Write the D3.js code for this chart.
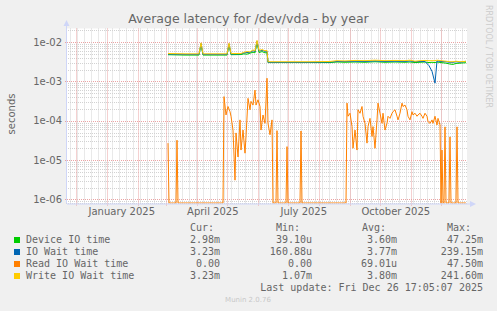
<!DOCTYPE html>
<html>
<head>
<meta charset="utf-8">
<script src="https://cdn.jsdelivr.net/npm/d3@7"></script>
<style>
body { margin: 0; background: #f0f0f0; }
svg { display: block; }
</style>
</head>
<body>
<svg width="497" height="311"></svg>
<script>
// time window: munin "year" graph = last 400 days
var endTime = Date.UTC(2025, 11, 26, 17, 5, 7);
var windowDays = 400;

// days into the window for the three upper series
var ioDays = [101, 118, 132, 134, 136, 160, 162, 164, 174, 177, 180, 183, 186, 188, 190, 192, 195, 198, 200,
    201, 223, 243, 263, 270, 278, 288, 298, 308, 318, 328, 338, 343, 348, 353, 358, 362, 365, 368, 370,
    374, 379, 383, 386, 389, 393, 399];
var deviceVals = [4.75e-3, 4.65e-3, 4.65e-3, 8.6e-3, 4.65e-3, 4.65e-3, 8.4e-3, 4.75e-3, 4.8e-3, 5.0e-3, 4.9e-3, 5.2e-3,
    5.5e-3, 5.3e-3, 9.8e-3, 5.4e-3, 5.7e-3, 5.3e-3, 5.4e-3,
    3.0e-3, 3.0e-3, 3.0e-3, 3.0e-3, 3.1e-3, 3.05e-3, 3.1e-3, 3.05e-3, 3.15e-3, 3.05e-3, 3.1e-3, 3.05e-3, 3.1e-3,
    3.0e-3, 3.05e-3, 3.1e-3, 3.0e-3, 3.05e-3, 3.0e-3, 3.1e-3, 3.0e-3, 2.9e-3, 2.75e-3, 2.7e-3, 2.85e-3, 2.9e-3, 2.98e-3];
var ioWaitVals = [4.95e-3, 4.85e-3, 4.85e-3, 9.2e-3, 4.85e-3, 4.85e-3, 9.0e-3, 4.95e-3, 5.0e-3, 5.3e-3, 5.4e-3, 5.45e-3,
    6.0e-3, 5.7e-3, 1.05e-2, 5.9e-3, 6.1e-3, 5.8e-3, 5.9e-3,
    3.05e-3, 3.05e-3, 3.05e-3, 3.1e-3, 3.2e-3, 3.2e-3, 3.25e-3, 3.2e-3, 3.3e-3, 3.2e-3, 3.25e-3, 3.2e-3, 3.3e-3,
    3.15e-3, 3.2e-3, 3.2e-3, 2.5e-3, 1.8e-3, 9.0e-4, 3.3e-3, 3.2e-3, 3.15e-3, 3.05e-3, 3.05e-3, 3.15e-3, 3.05e-3, 3.23e-3];
var writeVals = [5.1e-3, 5.0e-3, 5.0e-3, 9.5e-3, 5.0e-3, 5.0e-3, 9.3e-3, 5.1e-3, 5.1e-3, 5.5e-3, 5.7e-3, 5.6e-3,
    6.3e-3, 5.9e-3, 1.1e-2, 6.1e-3, 6.4e-3, 6.0e-3, 6.1e-3,
    3.15e-3, 3.15e-3, 3.15e-3, 3.2e-3, 3.35e-3, 3.3e-3, 3.4e-3, 3.35e-3, 3.45e-3, 3.35e-3, 3.4e-3, 3.35e-3, 3.45e-3,
    3.25e-3, 3.35e-3, 3.4e-3, 3.35e-3, 3.35e-3, 3.35e-3, 3.45e-3, 3.35e-3, 3.25e-3, 3.15e-3, 3.15e-3, 3.25e-3, 3.15e-3, 3.23e-3];

// read IO wait is much lower and often zero
var readDays = [101, 102, 109, 110, 111, 156, 157, 159, 161, 163, 164, 166, 168, 169, 171, 173, 174, 176, 178, 179,
    181, 183, 184, 186, 188, 189, 191, 193, 194, 196, 198, 200, 201, 203, 205, 206, 209, 210, 211, 219, 220, 221,
    233, 234, 235, 279, 280, 281, 283, 285, 286, 288, 290, 291, 293, 295, 296, 298, 300, 301, 303, 305, 306, 308,
    310, 311, 313, 315, 316, 318, 320, 321, 323, 325, 326, 328, 330, 331, 333, 335, 336, 338, 340, 341, 343, 345,
    346, 348, 350, 351, 353, 355, 356, 358, 360, 361, 363, 365, 366, 368, 370, 371, 373, 374, 375, 376, 377, 378,
    379, 382, 383, 384, 389, 390, 391, 399];
var readVals = [2.7e-5, 0, 0, 3.2e-5, 0, 0, 4.1e-4, 1.4e-4, 2.3e-4, 1.7e-4, 1.3e-4, 5.8e-5, 3.1e-6, 4.9e-5, 1.2e-5,
    1.05e-4, 1.8e-5, 5.8e-5, 1.5e-5, 4.0e-5, 3.7e-4, 1.9e-4, 3.1e-4, 2.5e-4, 6.0e-4, 2.5e-4, 3.4e-4, 2.3e-4, 5.8e-5,
    1.4e-4, 8.6e-5, 1.2e-3, 8.6e-5, 4.4e-5, 1.05e-4, 0, 0, 5.6e-5, 0, 0, 2.2e-5, 0,
    0, 5.5e-5, 0, 0, 2.8e-4, 1.3e-4, 1.55e-4, 7.1e-5, 2.0e-5, 5.8e-5, 1.8e-5, 1.9e-4, 1.55e-4, 2.3e-4, 1.3e-4,
    8.6e-5, 2.7e-5, 7.1e-5, 1.15e-4, 4.0e-5, 7.1e-5, 2.0e-5, 1.05e-4, 2.8e-4, 1.55e-4, 8.6e-5, 1.55e-4, 5.8e-5,
    8.6e-5, 1.3e-4, 1.15e-4, 1.55e-4, 1.7e-4, 1.9e-4, 1.3e-4, 1.05e-4, 1.55e-4, 2.8e-4, 2.3e-4, 2.5e-4, 1.9e-4,
    1.3e-4, 1.05e-4, 1.7e-4, 1.4e-4, 1.55e-4, 1.3e-4, 1.4e-4, 1.55e-4, 1.3e-4, 1.15e-4, 1.55e-4, 1.3e-4, 9.5e-5,
    8.6e-5, 1.05e-4, 8.6e-5, 1.3e-4, 7.8e-5, 1.15e-4, 7.8e-5, 0, 1.8e-5, 0, 0, 7.0e-5, 0, 0, 3.9e-5, 0, 0, 7.0e-5,
    0, 0];

var seriesNames = ["Device IO time", "IO Wait time", "Read IO Wait time", "Write IO Wait time"];
var seriesColors = ["#00cc00", "#0066b3", "#ff8000", "#ffcc00"];
var curVals = ["2.98m", "3.23m", "0.00", "3.23m"];
var minVals = ["39.10u", "160.88u", "0.00", "1.07m"];
var avgVals = ["3.60m", "3.77m", "69.01u", "3.80m"];
var maxVals = ["47.25m", "239.15m", "47.50m", "241.60m"];
var decades = [1e-6, 1e-5, 1e-4, 1e-3, 1e-2];

var svg = d3.select("svg");
var plot = {left: 67, right: 467, top: 28.5, bottom: 203.5};
var startTime = endTime - windowDays * 864e5;
function dayDate(d) { return new Date(startTime + d * 864e5); }

var x = d3.scaleUtc()
    .domain([new Date(startTime), new Date(endTime)])
    .range([plot.left, plot.right]);

// log axis, 1e-02 sits at y=42, 1e-06 at y=199.5
var y = d3.scaleLog()
    .domain([7.91e-7, 2.2e-2])
    .range([plot.bottom, plot.top]);

function yv(v) { return v > 0 ? Math.min(y(v), plot.bottom - 0.5) : plot.bottom - 0.5; }

svg.append("rect")
    .attr("x", plot.left).attr("y", plot.top)
    .attr("width", plot.right - plot.left).attr("height", plot.bottom - plot.top)
    .attr("fill", "#ffffff");

svg.append("clipPath").attr("id", "clip")
    .append("rect")
    .attr("x", plot.left).attr("y", plot.top)
    .attr("width", plot.right - plot.left).attr("height", plot.bottom - plot.top);

var minorColor = "#d2d2d2", majorColor = "#eaa3a3";

// horizontal grid
var minorY = [];
decades.concat([1e-7]).forEach(function(d) {
    for (var k = 2; k <= 9; k++) {
        var v = d * k;
        if (v > y.domain()[0] && v < y.domain()[1]) minorY.push(v);
    }
});
svg.append("g").selectAll("line").data(minorY).join("line")
    .attr("x1", plot.left - 1).attr("x2", plot.right)
    .attr("y1", function(d) { return Math.round(y(d)) + 0.5; })
    .attr("y2", function(d) { return Math.round(y(d)) + 0.5; })
    .attr("stroke", minorColor).attr("stroke-dasharray", "1,1");
svg.append("g").selectAll("line").data(decades).join("line")
    .attr("x1", plot.left - 2).attr("x2", plot.right)
    .attr("y1", function(d) { return Math.round(y(d)) + 0.5; })
    .attr("y2", function(d) { return Math.round(y(d)) + 0.5; })
    .attr("stroke", majorColor).attr("stroke-dasharray", "1,1");

// vertical grid: weeks (minor), months (major)
var weeks = d3.utcMonday.range(x.domain()[0], x.domain()[1]);
var months = d3.utcMonth.range(x.domain()[0], x.domain()[1]);
svg.append("g").selectAll("line").data(weeks).join("line")
    .attr("x1", function(d) { return Math.round(x(d)) + 0.5; })
    .attr("x2", function(d) { return Math.round(x(d)) + 0.5; })
    .attr("y1", plot.top).attr("y2", plot.bottom + 1)
    .attr("stroke", minorColor).attr("stroke-dasharray", "1,1");
svg.append("g").selectAll("line").data(months).join("line")
    .attr("x1", function(d) { return Math.round(x(d)) + 0.5; })
    .attr("x2", function(d) { return Math.round(x(d)) + 0.5; })
    .attr("y1", plot.top).attr("y2", plot.bottom + 2)
    .attr("stroke", majorColor).attr("stroke-dasharray", "1,1");

// series lines, drawn in rrd order
var line = d3.line()
    .x(function(d) { return x(dayDate(d[0])); })
    .y(function(d) { return yv(d[1]); });

var lines = svg.append("g").attr("clip-path", "url(#clip)");
var seriesData = [
    d3.zip(ioDays, deviceVals),
    d3.zip(ioDays, ioWaitVals),
    d3.zip(readDays, readVals),
    d3.zip(ioDays, writeVals)
];
seriesData.forEach(function(s, i) {
    lines.append("path")
        .datum(s)
        .attr("fill", "none")
        .attr("stroke", seriesColors[i])
        .attr("stroke-width", 1)
        .attr("stroke-linejoin", "round")
        .attr("d", line);
});

// axes lines + arrows
var axisColor = "#cfd6f8";
svg.append("line")
    .attr("x1", plot.left - 0.5).attr("x2", plot.left - 0.5)
    .attr("y1", plot.bottom).attr("y2", plot.top - 3)
    .attr("stroke", axisColor);
svg.append("line")
    .attr("x1", plot.left).attr("x2", plot.right + 3)
    .attr("y1", plot.bottom + 0.5).attr("y2", plot.bottom + 0.5)
    .attr("stroke", axisColor);
svg.append("path")
    .attr("d", "M" + (plot.left - 3.5) + "," + (plot.top - 2.5) + "L" + (plot.left - 0.5) + "," + (plot.top - 8.5) + "L" + (plot.left + 2.5) + "," + (plot.top - 2.5) + "Z")
    .attr("fill", axisColor);
svg.append("path")
    .attr("d", "M" + (plot.right + 3) + "," + (plot.bottom - 2.5) + "L" + (plot.right + 9) + "," + (plot.bottom + 0.5) + "L" + (plot.right + 3) + "," + (plot.bottom + 3.5) + "Z")
    .attr("fill", axisColor);

// tick labels
function fmtExp(v) {
    var e = Math.round(Math.log10(v));
    return "1e" + (e < 0 ? "-" : "+") + String(Math.abs(e)).padStart(2, "0");
}
var yAxis = d3.axisLeft(y).tickValues(decades).tickFormat(fmtExp).tickSize(0).tickPadding(5);
var gY = svg.append("g").attr("transform", "translate(" + plot.left + ",0)").call(yAxis);

var quarterLabels = [d3.utcDay.offset(new Date(Date.UTC(2025, 0, 1)), 14),
    d3.utcDay.offset(new Date(Date.UTC(2025, 3, 1)), 15),
    d3.utcDay.offset(new Date(Date.UTC(2025, 6, 1)), 15),
    d3.utcDay.offset(new Date(Date.UTC(2025, 9, 1)), 15)];
var xAxis = d3.axisBottom(x).tickValues(quarterLabels).tickFormat(d3.utcFormat("%B %Y")).tickSize(0).tickPadding(4.5);
var gX = svg.append("g").attr("transform", "translate(0," + plot.bottom + ")").call(xAxis);

[gX, gY].forEach(function(g) {
    g.select(".domain").remove();
    g.selectAll("text").attr("fill", "#666666")
        .style("font-family", "DejaVu Sans").style("font-size", "10px");
});

// title and side texts
svg.append("text")
    .attr("x", 248.5).attr("y", 23)
    .attr("text-anchor", "middle")
    .attr("fill", "#666666")
    .style("font-family", "DejaVu Sans").style("font-size", "12.5px")
    .text("Average latency for /dev/vda - by year");

svg.append("text")
    .attr("transform", "translate(15,114) rotate(-90)")
    .attr("text-anchor", "middle")
    .attr("fill", "#666666")
    .style("font-family", "DejaVu Sans").style("font-size", "10px")
    .text("seconds");

svg.append("text")
    .attr("transform", "translate(486,5) rotate(90)")
    .attr("fill", "#cccccc")
    .style("font-family", "DejaVu Sans").style("font-size", "8px")
    .text("RRDTOOL / TOBI OETIKER");

// legend
var legend = svg.append("g")
    .style("font-family", "DejaVu Sans Mono").style("font-size", "10px")
    .attr("fill", "#666666");

var headers = [["Cur:", 190], ["Min:", 276], ["Avg:", 362], ["Max:", 447]];
legend.selectAll("text.head").data(headers).join("text")
    .attr("class", "head")
    .attr("x", function(d) { return d[1]; }).attr("y", 231)
    .text(function(d) { return d[0]; });

var rows = legend.selectAll("g.row").data(seriesNames).join("g")
    .attr("class", "row")
    .attr("transform", function(d, i) { return "translate(0," + (243 + i * 12) + ")"; });
rows.append("rect")
    .attr("x", 14).attr("y", -6).attr("width", 6).attr("height", 6)
    .attr("fill", function(d, i) { return seriesColors[i]; });
rows.append("text").attr("x", 26).text(function(d) { return d; });
var cols = [[curVals, 220], [minVals, 312], [avgVals, 397], [maxVals, 483]];
cols.forEach(function(c) {
    rows.append("text")
        .attr("x", c[1]).attr("text-anchor", "end")
        .text(function(d, i) { return c[0][i]; });
});

legend.append("text")
    .attr("x", 483).attr("y", 291).attr("text-anchor", "end")
    .text("Last update: Fri Dec 26 17:05:07 2025");

svg.append("text")
    .attr("x", 248).attr("y", 302).attr("text-anchor", "middle")
    .attr("fill", "#c8c8c8")
    .style("font-family", "DejaVu Sans").style("font-size", "7px")
    .text("Munin 2.0.76");
</script>
</body>
</html>
